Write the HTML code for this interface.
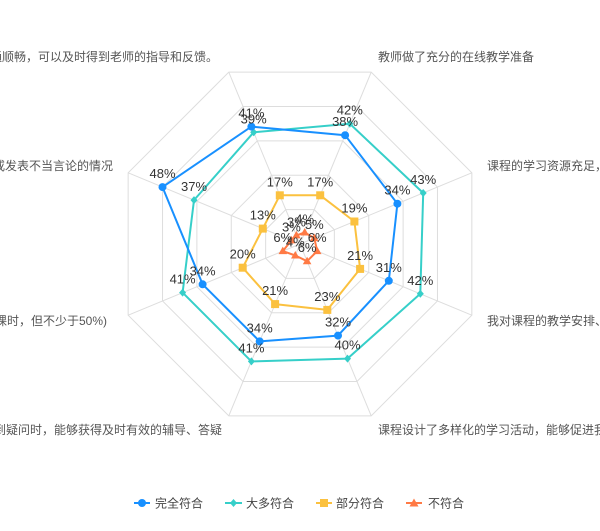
<!DOCTYPE html>
<html><head><meta charset="utf-8">
<style>
html,body{margin:0;padding:0;background:#fff;width:600px;height:531px;overflow:hidden}
svg{display:block}
text{font-family:"Liberation Sans","Noto Sans CJK SC",sans-serif}
.ax{font-size:12px;fill:#555}
.lb{font-size:13px;fill:#333;text-anchor:middle}
.lg{font-size:12px;fill:#444}
</style></head><body>
<svg width="600" height="531" viewBox="0 0 600 531">
<g fill="none" stroke="#ddd" stroke-width="1">
<g transform="translate(300,244)">
<polygon vector-effect="non-scaling-stroke" transform="scale(186)" points="0.3827,-0.9239 0.9239,-0.3827 0.9239,0.3827 0.3827,0.9239 -0.3827,0.9239 -0.9239,0.3827 -0.9239,-0.3827 -0.3827,-0.9239"/>
<polygon vector-effect="non-scaling-stroke" transform="scale(148.8)" points="0.3827,-0.9239 0.9239,-0.3827 0.9239,0.3827 0.3827,0.9239 -0.3827,0.9239 -0.9239,0.3827 -0.9239,-0.3827 -0.3827,-0.9239"/>
<polygon vector-effect="non-scaling-stroke" transform="scale(111.6)" points="0.3827,-0.9239 0.9239,-0.3827 0.9239,0.3827 0.3827,0.9239 -0.3827,0.9239 -0.9239,0.3827 -0.9239,-0.3827 -0.3827,-0.9239"/>
<polygon vector-effect="non-scaling-stroke" transform="scale(74.4)" points="0.3827,-0.9239 0.9239,-0.3827 0.9239,0.3827 0.3827,0.9239 -0.3827,0.9239 -0.9239,0.3827 -0.9239,-0.3827 -0.3827,-0.9239"/>
<polygon vector-effect="non-scaling-stroke" transform="scale(37.2)" points="0.3827,-0.9239 0.9239,-0.3827 0.9239,0.3827 0.3827,0.9239 -0.3827,0.9239 -0.9239,0.3827 -0.9239,-0.3827 -0.3827,-0.9239"/>
</g>
<line x1="300" y1="244" x2="371.2" y2="72.2"/>
<line x1="300" y1="244" x2="471.8" y2="172.8"/>
<line x1="300" y1="244" x2="471.8" y2="315.2"/>
<line x1="300" y1="244" x2="371.2" y2="415.8"/>
<line x1="300" y1="244" x2="228.8" y2="415.8"/>
<line x1="300" y1="244" x2="128.2" y2="315.2"/>
<line x1="300" y1="244" x2="128.2" y2="172.8"/>
<line x1="300" y1="244" x2="228.8" y2="72.2"/>
</g>

<!-- axis names -->
<text class="ax" x="218" y="61" text-anchor="end">在线学习期间，师生沟通顺畅，可以及时得到老师的指导和反馈。</text>
<text class="ax" x="378" y="61">教师做了充分的在线教学准备</text>
<text class="ax" x="487" y="170">课程的学习资源充足，能够满足学习需求</text>
<text class="ax" x="487" y="325">我对课程的教学安排、进度安排感到满意</text>
<text class="ax" x="378" y="434">课程设计了多样化的学习活动，能够促进我的学习</text>
<text class="ax" x="222" y="434" text-anchor="end">在线学习过程中遇到疑问时，能够获得及时有效的辅导、答疑</text>
<text class="ax" x="107" y="325" text-anchor="end">直播时长适当（可少于课时，但不少于50%)</text>
<text class="ax" x="113" y="170" text-anchor="end">课堂秩序良好，未出现刷屏或发表不当言论的情况</text>

<!-- 不符合 -->
<g stroke="#ff7a45" fill="#ff7a45" stroke-width="2">
<polygon fill="none" stroke-linejoin="round" points="304.7,232.5 314.3,238.1 317.2,251.1 307.1,261.2 295.3,255.5 282.8,251.1 291.4,240.4 296.4,235.4"/>
<g stroke="none">
<polygon points="304.7,228 309,235.5 300.4,235.5"/>
<polygon points="314.3,233.6 318.6,241.1 310,241.1"/>
<polygon points="317.2,246.6 321.5,254.1 312.9,254.1"/>
<polygon points="307.1,256.7 311.4,264.2 302.8,264.2"/>
<polygon points="295.3,251 299.6,258.5 291,258.5"/>
<polygon points="282.8,246.6 287.1,254.1 278.5,254.1"/>
<polygon points="291.4,235.9 295.7,243.4 287.1,243.4"/>
<polygon points="296.4,230.9 300.7,238.4 292.1,238.4"/>
</g>
</g>

<!-- 部分符合 -->
<g stroke="#fbc13f" fill="#fbc13f" stroke-width="2">
<polygon fill="none" stroke-linejoin="round" points="320.2,195.3 354.4,221.5 360.1,268.9 327.3,309.9 275.1,304.1 242.7,267.7 262.8,228.6 279.8,195.3"/>
<g stroke="none">
<rect x="316.2" y="191.3" width="8" height="8"/>
<rect x="350.4" y="217.5" width="8" height="8"/>
<rect x="356.1" y="264.9" width="8" height="8"/>
<rect x="323.3" y="305.9" width="8" height="8"/>
<rect x="271.1" y="300.1" width="8" height="8"/>
<rect x="238.7" y="263.7" width="8" height="8"/>
<rect x="258.8" y="224.6" width="8" height="8"/>
<rect x="275.8" y="191.3" width="8" height="8"/>
</g>
</g>

<!-- 大多符合 -->
<g stroke="#36cfc9" fill="#36cfc9" stroke-width="2">
<polygon fill="none" stroke-linejoin="round" points="349.8,123.7 423.2,193.0 420.3,293.8 347.5,358.6 251.4,361.4 182.6,292.6 194.0,200.1 253.7,132.3"/>
<g stroke="none">
<polygon points="349.8,119.7 353.3,123.7 349.8,127.7 346.3,123.7"/>
<polygon points="423.2,189 426.7,193 423.2,197 419.7,193"/>
<polygon points="420.3,289.8 423.8,293.8 420.3,297.8 416.8,293.8"/>
<polygon points="347.5,354.6 351,358.6 347.5,362.6 344,358.6"/>
<polygon points="251.4,357.4 254.9,361.4 251.4,365.4 247.9,361.4"/>
<polygon points="182.6,288.6 186.1,292.6 182.6,296.6 179.1,292.6"/>
<polygon points="194,196.1 197.5,200.1 194,204.1 190.5,200.1"/>
<polygon points="253.7,128.3 257.2,132.3 253.7,136.3 250.2,132.3"/>
</g>
</g>

<!-- 完全符合 -->
<g stroke="#1890ff" fill="#1890ff" stroke-width="2">
<polygon fill="none" stroke-linejoin="round" points="345.1,135.2 397.4,203.7 388.8,280.8 338.0,335.6 259.7,341.4 202.6,284.3 162.5,187.1 251.4,126.6"/>
<g stroke="none">
<circle cx="345.1" cy="135.2" r="4"/>
<circle cx="397.4" cy="203.7" r="4"/>
<circle cx="388.8" cy="280.8" r="4"/>
<circle cx="338.0" cy="335.6" r="4"/>
<circle cx="259.7" cy="341.4" r="4"/>
<circle cx="202.6" cy="284.3" r="4"/>
<circle cx="162.5" cy="187.1" r="4"/>
<circle cx="251.4" cy="126.6" r="4"/>
</g>
</g>

<!-- labels -->
<g class="lb">
<text class="lb" x="304.7" y="223.5">4%</text>
<text class="lb" x="314.3" y="229.1">5%</text>
<text class="lb" x="317.2" y="242.1">6%</text>
<text class="lb" x="307.1" y="252.2">6%</text>
<text class="lb" x="295.3" y="246.5">4%</text>
<text class="lb" x="282.8" y="242.1">6%</text>
<text class="lb" x="291.4" y="231.4">3%</text>
<text class="lb" x="296.4" y="226.4">3%</text>

<text class="lb" x="320.2" y="186.3">17%</text>
<text class="lb" x="354.4" y="212.5">19%</text>
<text class="lb" x="360.1" y="259.9">21%</text>
<text class="lb" x="327.3" y="300.9">23%</text>
<text class="lb" x="275.1" y="295.1">21%</text>
<text class="lb" x="242.7" y="258.7">20%</text>
<text class="lb" x="262.8" y="219.6">13%</text>
<text class="lb" x="279.8" y="186.3">17%</text>

<text class="lb" x="349.8" y="114.7">42%</text>
<text class="lb" x="423.2" y="184">43%</text>
<text class="lb" x="420.3" y="284.8">42%</text>
<text class="lb" x="347.5" y="349.6">40%</text>
<text class="lb" x="251.4" y="352.4">41%</text>
<text class="lb" x="182.6" y="283.6">41%</text>
<text class="lb" x="194" y="191.1">37%</text>
<text class="lb" x="253.7" y="123.3">39%</text>

<text class="lb" x="345.1" y="126.2">38%</text>
<text class="lb" x="397.4" y="194.7">34%</text>
<text class="lb" x="388.8" y="271.8">31%</text>
<text class="lb" x="338" y="326.6">32%</text>
<text class="lb" x="259.7" y="332.4">34%</text>
<text class="lb" x="202.6" y="275.3">34%</text>
<text class="lb" x="162.5" y="178.1">48%</text>
<text class="lb" x="251.4" y="117.6">41%</text>
</g>

<!-- legend -->
<g stroke-width="2">
<line x1="134" y1="503" x2="150" y2="503" stroke="#1890ff"/>
<circle cx="142" cy="503" r="4" fill="#1890ff"/>
<line x1="225" y1="503" x2="242" y2="503" stroke="#36cfc9"/>
<polygon points="233.5,499 237,503 233.5,507 230,503" fill="#36cfc9"/>
<line x1="316" y1="503" x2="332" y2="503" stroke="#fbc13f"/>
<rect x="320" y="499" width="8" height="8" fill="#fbc13f"/>
<line x1="406" y1="503" x2="422" y2="503" stroke="#ff7a45"/>
<polygon points="414,498.5 418.5,506.5 409.5,506.5" fill="#ff7a45"/>
</g>
<text class="lg" x="155" y="507.5">完全符合</text>
<text class="lg" x="246" y="507.5">大多符合</text>
<text class="lg" x="336" y="507.5">部分符合</text>
<text class="lg" x="428" y="507.5">不符合</text>
</svg>
</body></html>
